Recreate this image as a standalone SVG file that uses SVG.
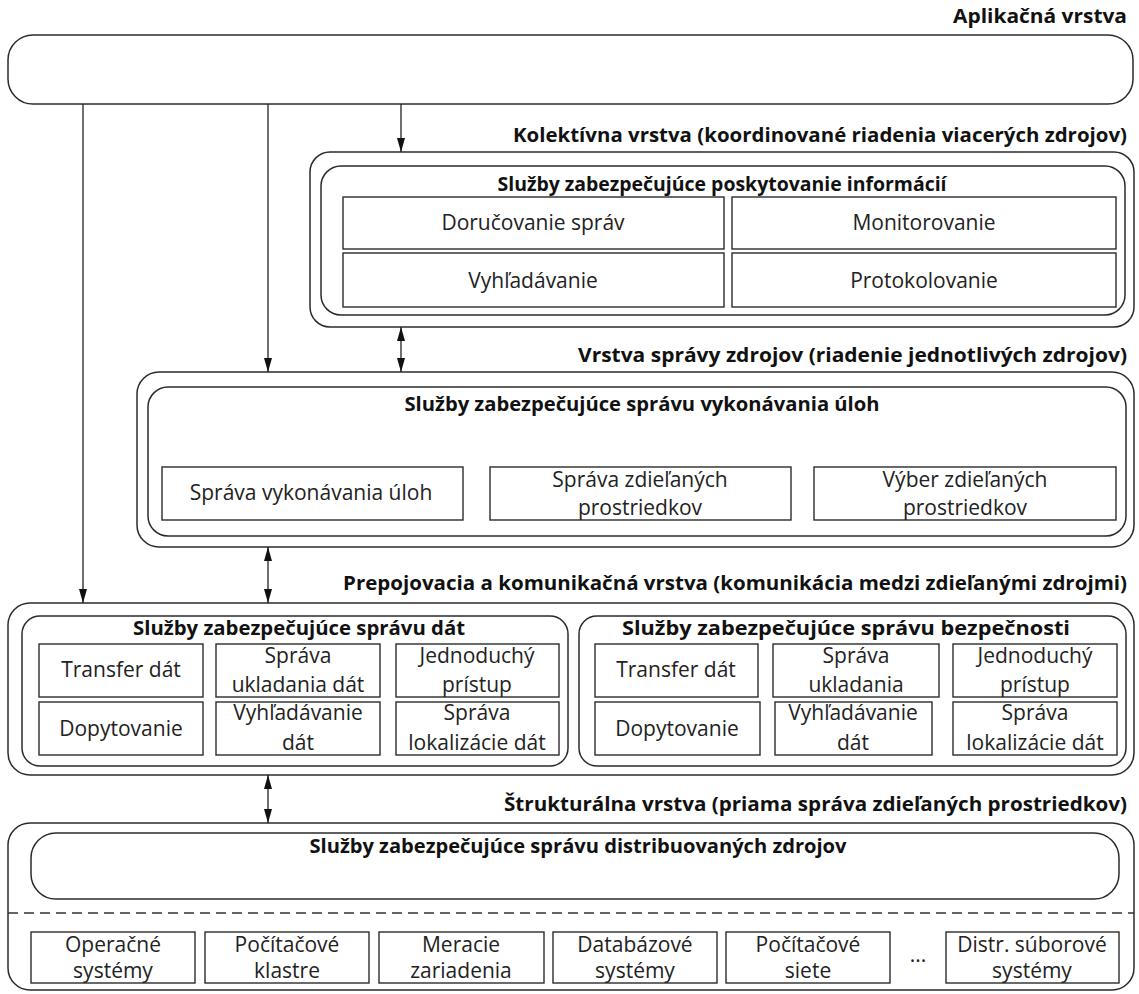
<svg xmlns="http://www.w3.org/2000/svg" width="1139" height="994" viewBox="0 0 1139 994">
<defs>
<style>
.bx{fill:#fff;stroke:#2b2b2b;stroke-width:1.5}
.cell{fill:#fff;stroke:#2b2b2b;stroke-width:1.4}
.hd{font-family:"Open Sans","DejaVu Sans",sans-serif;font-weight:bold;font-size:19.5px;fill:#111;text-anchor:end}
.tt{font-family:"Open Sans","DejaVu Sans",sans-serif;font-weight:bold;font-size:19.5px;fill:#111;text-anchor:middle}
.tx{font-family:"Open Sans","DejaVu Sans",sans-serif;font-size:21px;fill:#222;text-anchor:middle}
.ln{stroke:#222;stroke-width:1.3;fill:none}
</style>
<marker id="ah" viewBox="0 0 14 8" refX="14" refY="4" markerWidth="14" markerHeight="8" markerUnits="userSpaceOnUse" orient="auto-start-reverse">
<path d="M0,0 L14,4 L0,8 z" fill="#111"/>
</marker>
</defs>
<rect width="1139" height="994" fill="#fff"/>

<g id="app-layer">
<text class="hd" x="1127" y="23" textLength="174" lengthAdjust="spacingAndGlyphs">Aplikačná vrstva</text>
<rect class="bx" x="8" y="35" width="1125" height="69" rx="25"/>
</g>

<g id="collective-layer">
<text class="hd" x="1127" y="142" textLength="614" lengthAdjust="spacingAndGlyphs">Kolektívna vrstva (koordinované riadenia viacerých zdrojov)</text>
<rect class="bx" x="310" y="152" width="824" height="175" rx="20"/>
<rect class="bx" x="321" y="166" width="804" height="149" rx="20"/>
<text class="tt" x="722" y="191" textLength="449" lengthAdjust="spacingAndGlyphs">Služby zabezpečujúce poskytovanie informácií</text>
<rect class="cell" x="343" y="197" width="381" height="52"/>
<rect class="cell" x="732" y="197" width="384" height="52"/>
<rect class="cell" x="343" y="253" width="381" height="54"/>
<rect class="cell" x="732" y="253" width="384" height="54"/>
<text class="tx" x="533" y="230">Doručovanie správ</text>
<text class="tx" x="924" y="230">Monitorovanie</text>
<text class="tx" x="533" y="288">Vyhľadávanie</text>
<text class="tx" x="924" y="288">Protokolovanie</text>
</g>

<g id="resource-layer">
<text class="hd" x="1127" y="362" textLength="549" lengthAdjust="spacingAndGlyphs">Vrstva správy zdrojov (riadenie jednotlivých zdrojov)</text>
<rect class="bx" x="137" y="372" width="997" height="175" rx="22"/>
<rect class="bx" x="148" y="387" width="978" height="149" rx="20"/>
<text class="tt" x="642" y="411" textLength="475" lengthAdjust="spacingAndGlyphs">Služby zabezpečujúce správu vykonávania úloh</text>
<rect class="cell" x="162" y="467" width="301" height="53"/>
<rect class="cell" x="490" y="467" width="301" height="53"/>
<rect class="cell" x="814" y="467" width="302" height="53"/>
<text class="tx" x="311" y="500">Správa vykonávania úloh</text>
<text class="tx" x="640" y="487">Správa zdieľaných</text>
<text class="tx" x="640" y="515">prostriedkov</text>
<text class="tx" x="965" y="487">Výber zdieľaných</text>
<text class="tx" x="965" y="515">prostriedkov</text>
</g>

<g id="connectivity-layer">
<text class="hd" x="1127" y="590" textLength="784" lengthAdjust="spacingAndGlyphs">Prepojovacia a komunikačná vrstva (komunikácia medzi zdieľanými zdrojmi)</text>
<rect class="bx" x="8" y="603" width="1126" height="172" rx="22"/>
<rect class="bx" x="22" y="616" width="546" height="150" rx="18"/>
<rect class="bx" x="579" y="616" width="547" height="150" rx="18"/>
<text class="tt" x="299" y="635" textLength="332" lengthAdjust="spacingAndGlyphs">Služby zabezpečujúce správu dát</text>
<text class="tt" x="846" y="635" textLength="448" lengthAdjust="spacingAndGlyphs">Služby zabezpečujúce správu bezpečnosti</text>
<rect class="cell" x="39" y="644" width="164" height="53"/>
<rect class="cell" x="216" y="644" width="164" height="53"/>
<rect class="cell" x="396" y="644" width="163" height="53"/>
<rect class="cell" x="39" y="702" width="164" height="53"/>
<rect class="cell" x="216" y="702" width="164" height="53"/>
<rect class="cell" x="396" y="702" width="163" height="53"/>
<text class="tx" x="121" y="677">Transfer dát</text>
<text class="tx" x="298" y="663">Správa</text>
<text class="tx" x="298" y="692">ukladania dát</text>
<text class="tx" x="477" y="663">Jednoduchý</text>
<text class="tx" x="477" y="692">prístup</text>
<text class="tx" x="121" y="736">Dopytovanie</text>
<text class="tx" x="298" y="720">Vyhľadávanie</text>
<text class="tx" x="298" y="750">dát</text>
<text class="tx" x="477" y="720">Správa</text>
<text class="tx" x="477" y="750">lokalizácie dát</text>
<rect class="cell" x="595" y="644" width="163" height="53"/>
<rect class="cell" x="773" y="644" width="166" height="53"/>
<rect class="cell" x="953" y="644" width="164" height="53"/>
<rect class="cell" x="595" y="702" width="165" height="53"/>
<rect class="cell" x="775" y="702" width="157" height="53"/>
<rect class="cell" x="953" y="702" width="164" height="53"/>
<text class="tx" x="676" y="677">Transfer dát</text>
<text class="tx" x="856" y="663">Správa</text>
<text class="tx" x="856" y="692">ukladania</text>
<text class="tx" x="1035" y="663">Jednoduchý</text>
<text class="tx" x="1035" y="692">prístup</text>
<text class="tx" x="677" y="736">Dopytovanie</text>
<text class="tx" x="853" y="720">Vyhľadávanie</text>
<text class="tx" x="853" y="750">dát</text>
<text class="tx" x="1035" y="720">Správa</text>
<text class="tx" x="1035" y="750">lokalizácie dát</text>
</g>

<g id="fabric-layer">
<text class="hd" x="1127" y="811" textLength="623" lengthAdjust="spacingAndGlyphs">Štrukturálna vrstva (priama správa zdieľaných prostriedkov)</text>
<rect class="bx" x="8" y="823" width="1126" height="167" rx="22"/>
<rect class="bx" x="31" y="833" width="1088" height="66" rx="25"/>
<text class="tt" x="578" y="853" textLength="537" lengthAdjust="spacingAndGlyphs">Služby zabezpečujúce správu distribuovaných zdrojov</text>
<line x1="8" y1="913" x2="1134" y2="913" stroke="#333" stroke-width="1.4" stroke-dasharray="10,6"/>
<rect class="cell" x="31" y="932" width="164" height="51"/>
<rect class="cell" x="205" y="932" width="164" height="51"/>
<rect class="cell" x="379" y="932" width="165" height="51"/>
<rect class="cell" x="553" y="932" width="164" height="51"/>
<rect class="cell" x="726" y="932" width="164" height="51"/>
<rect class="cell" x="946" y="932" width="173" height="51"/>
<text class="tx" x="113" y="952">Operačné</text>
<text class="tx" x="113" y="978">systémy</text>
<text class="tx" x="287" y="952">Počítačové</text>
<text class="tx" x="287" y="978">klastre</text>
<text class="tx" x="461" y="952">Meracie</text>
<text class="tx" x="461" y="978">zariadenia</text>
<text class="tx" x="635" y="952">Databázové</text>
<text class="tx" x="635" y="978">systémy</text>
<text class="tx" x="808" y="952">Počítačové</text>
<text class="tx" x="808" y="978">siete</text>
<text class="tx" x="918" y="962" font-size="14">...</text>
<text class="tx" x="1032" y="952">Distr. súborové</text>
<text class="tx" x="1032" y="978">systémy</text>
</g>

<g id="connectors">
<line class="ln" x1="83" y1="104" x2="83" y2="603" marker-end="url(#ah)"/>
<line class="ln" x1="268" y1="104" x2="268" y2="372" marker-end="url(#ah)"/>
<line class="ln" x1="401" y1="104" x2="401" y2="152" marker-end="url(#ah)"/>
<line class="ln" x1="401" y1="327" x2="401" y2="372" marker-start="url(#ah)" marker-end="url(#ah)"/>
<line class="ln" x1="268" y1="547" x2="268" y2="603" marker-start="url(#ah)" marker-end="url(#ah)"/>
<line class="ln" x1="268" y1="775" x2="268" y2="823" marker-start="url(#ah)" marker-end="url(#ah)"/>
</g>
</svg>
